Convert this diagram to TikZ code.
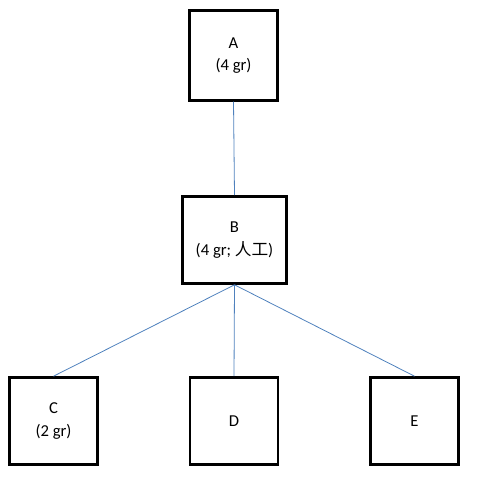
\documentclass[tikz,border=0pt]{standalone}
\usepackage{fontspec}
\setmainfont{Carlito}
\newfontfamily\cjk{Noto Sans CJK SC}
\usetikzlibrary{positioning}
\definecolor{linkblue}{RGB}{79,129,189}

\begin{document}
\begin{tikzpicture}[x=0.75pt,y=-0.75pt,font=\fontsize{12.5}{17}\selectfont]
    \tikzset{b/.style={draw,line width=2.2pt,align=center,minimum width=66pt,minimum height=67pt,inner sep=2pt},
             ln/.style={draw=linkblue,line width=0.6pt}}
    \useasboundingbox (0,0) rectangle (483,491);
    \node[b] (a) at (233.5,55.5) {A\\(4 gr)};
    \node[b,minimum width=78pt,minimum height=65pt] (bb) at (234.5,240) {B\\(4 gr; {\cjk 人工})};
    \node[b,minimum height=65pt] (c) at (53.5,421) {C\\(2 gr)};
    \node[b,minimum height=65pt] (d) at (234,421) {D};
    \node[b,minimum height=65pt] (e) at (414.5,421) {E};
    \draw[ln] (a.south) -- (bb.north);
    \foreach \k in {c,d,e} \draw[ln] (bb.south) -- (\k.north);
\end{tikzpicture}
\end{document}
